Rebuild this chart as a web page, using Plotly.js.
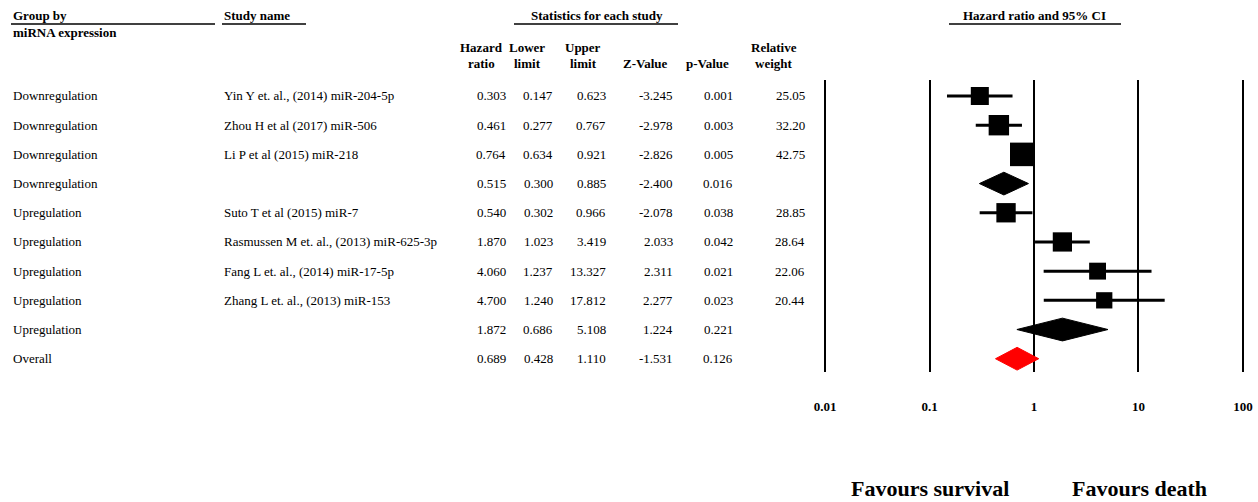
<!DOCTYPE html>
<html>
<head>
<meta charset="utf-8">
<script src="https://cdn.plot.ly/plotly-3.0.1.min.js"></script>
<style>html,body{margin:0;padding:0;background:#fff;}#chart{width:1258px;height:502px;}</style>
</head>
<body>
<div id="chart"></div>
<script>
// ---------------- DATA ----------------
const groups = ["Downregulation","Downregulation","Downregulation","Downregulation",
  "Upregulation","Upregulation","Upregulation","Upregulation","Upregulation","Overall"];
const studies = ["Yin Y et. al., (2014) miR-204-5p","Zhou H et al (2017) miR-506","Li P et al (2015) miR-218","",
  "Suto T et al (2015) miR-7","Rasmussen M et. al., (2013) miR-625-3p","Fang L et. al., (2014) miR-17-5p",
  "Zhang L et. al., (2013) miR-153","",""];
const rowTypes = ["study","study","study","summary","study","study","study","study","summary","overall"];
const hazardRatio = [0.303,0.461,0.764,0.515,0.540,1.870,4.060,4.700,1.872,0.689];
const lowerLimit = [0.147,0.277,0.634,0.300,0.302,1.023,1.237,1.240,0.686,0.428];
const upperLimit = [0.623,0.767,0.921,0.885,0.966,3.419,13.327,17.812,5.108,1.110];
const zValue = [-3.245,-2.978,-2.826,-2.400,-2.078,2.033,2.311,2.277,1.224,-1.531];
const pValue = [0.001,0.003,0.005,0.016,0.038,0.042,0.021,0.023,0.221,0.126];
const relWeight = [25.05,32.20,42.75,null,28.85,28.64,22.06,20.44,null,null];
const tickVals = [0.01,0.1,1,10,100];
const tickLabels = ["0.01","0.1","1","10","100"];

// ---------------- LAYOUT HELPERS ----------------
const W = 1258, H = 502;
const px = x => x / W;
const py = y => 1 - y / H;
const SERIF = "Liberation Serif, Times New Roman, serif";
const txt = {family: SERIF, size: 13, color: "#000"};
const bold = {family: SERIF, size: 13, color: "#000", weight: "bold"};

const traces = [];
// studies: squares + CI lines
const sIdx = rowTypes.map((t,i)=>t==="study"?i:-1).filter(i=>i>=0);
traces.push({
  type: "scatter", mode: "markers",
  x: sIdx.map(i=>hazardRatio[i]), y: sIdx,
  marker: {symbol: "square", color: "#000", opacity: 1, size: sIdx.map(i=>3.6*Math.sqrt(relWeight[i])), line: {width: 0}},
  error_x: {type: "data", symmetric: false,
    array: sIdx.map(i=>upperLimit[i]-hazardRatio[i]),
    arrayminus: sIdx.map(i=>hazardRatio[i]-lowerLimit[i]),
    color: "#000", thickness: 3, width: 0},
  hoverinfo: "skip", showlegend: false, cliponaxis: false
});
// summary diamonds
const dh = 0.39;
rowTypes.forEach((t,i)=>{
  if (t === "study") return;
  const col = t === "overall" ? "#ff0000" : "#000";
  traces.push({
    type: "scatter", mode: "lines", fill: "toself", fillcolor: col,
    x: [lowerLimit[i], hazardRatio[i], upperLimit[i], hazardRatio[i], lowerLimit[i]],
    y: [i, i-dh, i, i+dh, i],
    line: {color: col, width: 1}, hoverinfo: "skip", showlegend: false
  });
});

const ann = [];
const A = (text, x, y, opts) => ann.push(Object.assign({text, x, y, xref: "paper", yref: "paper",
  showarrow: false, xanchor: "left", yanchor: "middle", font: txt}, opts||{}));

// headers
A("Group by", px(11), py(16), {font: bold});
A("miRNA expression", px(11), py(33), {font: bold});
A("Study name", px(222), py(16), {font: bold});
A("Statistics for each study", px(597), py(16), {font: bold, xanchor: "center"});
A("Hazard ratio and 95% CI", px(1034), py(16), {font: bold, xanchor: "center"});
const colHead = [["Hazard","ratio",482],["Lower","limit",527],["Upper","limit",583],["","Z-Value",645],["","p-Value",707],["Relative","weight",774]];
colHead.forEach(c=>{
  if (c[0]) A(c[0], px(c[2]), py(47), {font: bold, xanchor: "center"});
  A(c[1], px(c[2]), py(63), {font: bold, xanchor: "center"});
});
// table rows
const colRight = [508, 555, 608, 675, 735, 807];
groups.forEach((g,i)=>{
  const yr = {yref: "y"};
  A(g, px(11), i, yr);
  if (studies[i]) A(studies[i], px(222), i, yr);
  const vals = [hazardRatio[i].toFixed(3), lowerLimit[i].toFixed(3), upperLimit[i].toFixed(3),
    zValue[i].toFixed(3), pValue[i].toFixed(3), relWeight[i]==null ? "" : relWeight[i].toFixed(2)];
  vals.forEach((v,k)=>{ if (v) A(v, px(colRight[k]), i, {yref: "y", xanchor: "right"}); });
});
// footer
const fav = {family: SERIF, size: 22, color: "#000", weight: "bold"};
A("Favours survival", px(930), py(488), {font: fav, xanchor: "center"});
A("Favours death", px(1139), py(488), {font: fav, xanchor: "center"});

const hl = (x0,x1,y) => ({type: "line", xref: "paper", yref: "paper", x0: px(x0), x1: px(x1), y0: py(y), y1: py(y), line: {color: "#000", width: 1.3}});
const shapes = [hl(11,215,24), hl(222,306,24), hl(514,678,24), hl(949,1121,24)];

const layout = {
  width: W, height: H, margin: {l:0, r:0, t:0, b:0},
  paper_bgcolor: "#fff", plot_bgcolor: "rgba(0,0,0,0)",
  showlegend: false, hovermode: false,
  xaxis: {type: "log", range: [-2.05, 2.05], domain: [819.8/W, 1248.2/W],
    tickvals: tickVals, ticktext: tickLabels, showgrid: true, gridcolor: "#000", gridwidth: 2,
    zeroline: false, showline: false, ticks: "", ticklabelstandoff: 25,
    tickfont: {family: SERIF, size: 13, color: "#000", weight: "bold"}, fixedrange: true},
  yaxis: {range: [9.455, -0.548], domain: [py(372), py(80)], visible: false, fixedrange: true},
  annotations: ann, shapes: shapes
};
Plotly.newPlot("chart", traces, layout, {staticPlot: true, displayModeBar: false});
</script>
</body>
</html>
